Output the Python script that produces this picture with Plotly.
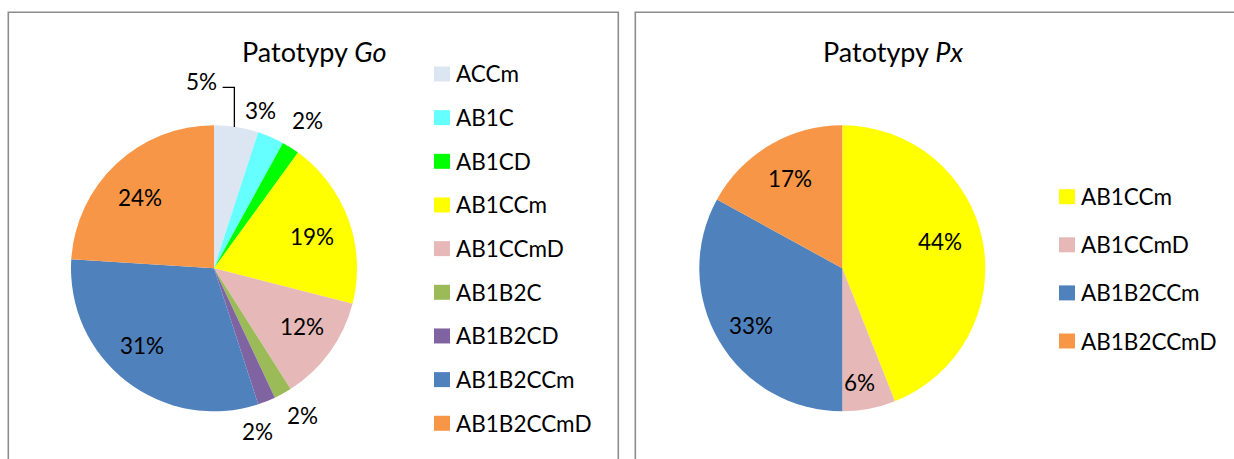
import math
import plotly.graph_objects as go

W, H = 1234, 459
FONT = "Lato"

# Pathotype shares (%) -- "Go" panel
go_labels = ["ACCm", "AB1C", "AB1CD", "AB1CCm", "AB1CCmD",
             "AB1B2C", "AB1B2CD", "AB1B2CCm", "AB1B2CCmD"]
go_values = [5, 3, 2, 19, 12, 2, 2, 31, 24]
go_colors = ["#DCE6F2", "#66FFFF", "#00FF00", "#FFFF00", "#E6B9B8",
             "#9BBB59", "#8064A2", "#4F81BD", "#F79646"]

# Pathotype shares (%) -- "Px" panel
px_labels = ["AB1CCm", "AB1CCmD", "AB1B2CCm", "AB1B2CCmD"]
px_values = [44, 6, 33, 17]
px_colors = ["#FFFF00", "#E6B9B8", "#4F81BD", "#F79646"]

# data-label placement: (radius as fraction of pie radius, angle nudge in degrees)
go_label_pos = [(1.31, -12.8), (1.15, -7.0), (1.22, 0.0), (0.72, 2.0), (0.74, -2.5),
                (1.20, -2.4), (1.18, 6.8), (0.74, 5.1), (0.72, -3.0)]
px_label_pos = [(0.71, -4.4), (0.81, 2.4), (0.75, -1.4), (0.73, 0.4)]


def fx(x):
    return x / W


def fy(y):
    return 1 - y / H


def add_pie(fig, labels, values, colors, cx, cy, r, name):
    fig.add_trace(go.Pie(
        labels=labels, values=values, name=name,
        marker=dict(colors=colors, line=dict(width=0)),
        sort=False, direction="clockwise", rotation=0,
        textinfo="none", hoverinfo="label+percent", showlegend=False,
        domain=dict(x=[fx(cx - r), fx(cx + r)], y=[fy(cy + r), fy(cy - r)]),
    ))


def slice_mid_angles(values):
    total = sum(values)
    out, acc = [], 0.0
    for v in values:
        out.append((acc + v / 2) / total * 360.0)
        acc += v
    return out


def add_labels(fig, values, placement, cx, cy, r, size):
    total = sum(values)
    anchors = []
    for v, mid, (rf, dang) in zip(values, slice_mid_angles(values), placement):
        a = math.radians(mid + dang)
        x = cx + rf * r * math.sin(a)
        y = cy - rf * r * math.cos(a)
        anchors.append((x, y))
        fig.add_annotation(x=fx(x), y=fy(y), xref="paper", yref="paper",
                           text=f"{round(v / total * 100)}%", showarrow=False,
                           xanchor="center", yanchor="middle",
                           font=dict(family=FONT, size=size, color="black"))
    return anchors


def add_legend(fig, labels, colors, x0, y0, step, size):
    for i, (lab, col) in enumerate(zip(labels, colors)):
        yc = y0 + i * step
        fig.add_shape(type="rect", xref="paper", yref="paper",
                      x0=fx(x0), x1=fx(x0 + 16), y0=fy(yc + 7.5), y1=fy(yc - 7.5),
                      fillcolor=col, line=dict(width=0))
        fig.add_annotation(x=fx(x0 + 20), y=fy(yc), xref="paper", yref="paper",
                           text=lab, showarrow=False, xanchor="left", yanchor="middle",
                           font=dict(family=FONT, size=size, color="black"))


fig = go.Figure()

R = 143
GO_C = (214, 268.3)
PX_C = (842.3, 268.3)
LBL = 22.5
LEG = 22.5
TTL = 27

add_pie(fig, go_labels, go_values, go_colors, GO_C[0], GO_C[1], R, "Go")
add_pie(fig, px_labels, px_values, px_colors, PX_C[0], PX_C[1], R, "Px")

go_anchor = add_labels(fig, go_values, go_label_pos, GO_C[0], GO_C[1], R, LBL)
add_labels(fig, px_values, px_label_pos, PX_C[0], PX_C[1], R, LBL)

# leader line for the first "Go" slice label
mid0 = math.radians(slice_mid_angles(go_values)[0])
ex = GO_C[0] + R * math.sin(mid0) - 2
ey = GO_C[1] - R * math.cos(mid0)
lx, ly = go_anchor[0]
fig.add_shape(type="path", xref="paper", yref="paper",
              path=f"M {fx(lx + 21)} {fy(ly + 6)} L {fx(ex)} {fy(ly + 6)} L {fx(ex)} {fy(ey)}",
              line=dict(color="black", width=1.3))

# titles
fig.add_annotation(x=fx(313.7), y=fy(52), xref="paper", yref="paper",
                   text="Patotypy <i>Go</i>", showarrow=False,
                   xanchor="center", yanchor="middle",
                   font=dict(family=FONT, size=TTL, color="black"))
fig.add_annotation(x=fx(893.3), y=fy(52), xref="paper", yref="paper",
                   text="Patotypy <i>Px</i>", showarrow=False,
                   xanchor="center", yanchor="middle",
                   font=dict(family=FONT, size=TTL, color="black"))

add_legend(fig, go_labels, go_colors, 434, 74, 43.66, LEG)
add_legend(fig, px_labels, px_colors, 1059, 196.7, 48.1, LEG)

# chart-area frames
fig.add_shape(type="rect", xref="paper", yref="paper",
              x0=fx(8.3), x1=fx(618.3), y0=fy(475), y1=fy(12.3),
              line=dict(color="#8C8C8C", width=1.6), fillcolor="rgba(0,0,0,0)")
fig.add_shape(type="rect", xref="paper", yref="paper",
              x0=fx(635.3), x1=fx(1250), y0=fy(475), y1=fy(12.3),
              line=dict(color="#8C8C8C", width=1.6), fillcolor="rgba(0,0,0,0)")

fig.update_layout(width=W, height=H, margin=dict(l=0, r=0, t=0, b=0),
                  paper_bgcolor="white", plot_bgcolor="white",
                  font=dict(family=FONT))

fig.write_html("out.html")
